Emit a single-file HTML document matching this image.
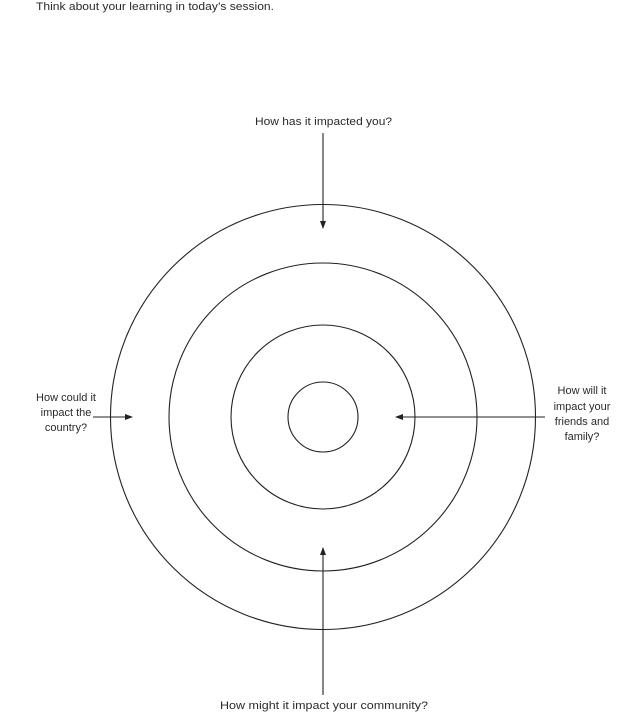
<!DOCTYPE html>
<html><head><meta charset="utf-8"><style>
html,body{margin:0;padding:0;background:#fff;width:626px;height:723px;overflow:hidden}
svg text{font-family:"Liberation Sans",sans-serif;font-size:11px;fill:#2a2a2a}
</style></head><body>
<svg width="626" height="723" viewBox="0 0 626 723">
<defs><marker id="a" markerWidth="8" markerHeight="6" refX="7" refY="3" orient="auto" markerUnits="userSpaceOnUse"><path d="M0,0 L8,3 L0,6 z" fill="#222"/></marker></defs>
<text x="36" y="10" textLength="238" lengthAdjust="spacingAndGlyphs">Think about your learning in today’s session.</text>
<g fill="none" stroke="#222" stroke-width="1.1">
<circle cx="323" cy="417" r="212.5"/>
<circle cx="323" cy="417" r="154"/>
<circle cx="323" cy="417" r="92"/>
<circle cx="323" cy="417" r="35"/>
<line x1="323" y1="133" x2="323" y2="228" marker-end="url(#a)"/>
<line x1="323" y1="695" x2="323" y2="548" marker-end="url(#a)"/>
<line x1="545" y1="417" x2="396" y2="417" marker-end="url(#a)"/>
<line x1="93" y1="417" x2="132" y2="417" marker-end="url(#a)"/>
</g>
<text x="255" y="125" textLength="137" lengthAdjust="spacingAndGlyphs">How has it impacted you?</text>
<text x="220" y="709" textLength="208" lengthAdjust="spacingAndGlyphs">How might it impact your community?</text>
<g text-anchor="middle">
<text x="66" y="401">How could it</text>
<text x="66" y="416">impact the</text>
<text x="66" y="431">country?</text>
<text x="582" y="394">How will it</text>
<text x="582" y="410">impact your</text>
<text x="582" y="425">friends and</text>
<text x="582" y="440">family?</text>
</g>
</svg>
</body></html>
